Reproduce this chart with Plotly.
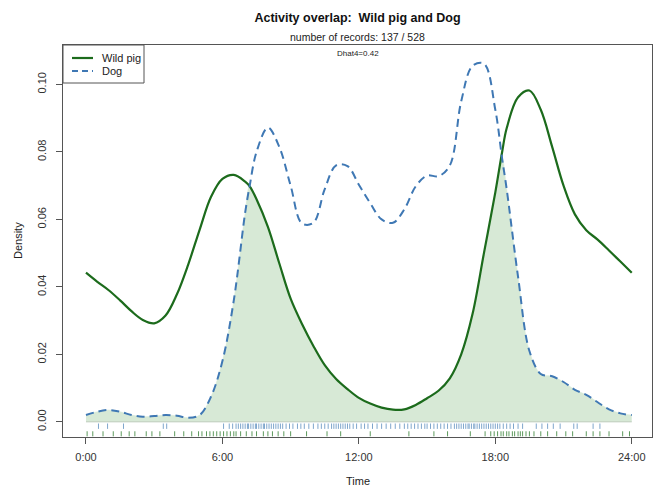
import plotly.graph_objects as go

# Time of day (hours) at which both kernel densities are evaluated
hours = [0.0, 0.5, 1.0, 1.5, 2.0, 2.5, 3.0, 3.5, 4.0, 4.5, 5.0, 5.5, 6.0, 6.5,
         7.0, 7.2, 7.5, 8.0, 8.5, 9.0, 9.5, 10.0, 10.5, 11.0, 11.5, 12.0, 12.5,
         13.0, 13.5, 14.0, 14.5, 15.0, 15.5, 16.0, 16.5, 17.0, 17.5, 18.0,
         18.3, 18.5, 19.0, 19.5, 20.0, 20.5, 21.0, 21.5, 22.0, 22.5, 23.0,
         23.5, 24.0]

wild_pig = [0.0442, 0.0415, 0.0390, 0.0360, 0.0328, 0.0302, 0.0292, 0.0315,
            0.0378, 0.0467, 0.0570, 0.0667, 0.0720, 0.0732, 0.0712, 0.0698,
            0.0660, 0.0578, 0.0470, 0.0365, 0.0290, 0.0225, 0.0168, 0.0127,
            0.0097, 0.0071, 0.0054, 0.0042, 0.0036, 0.0037, 0.0050, 0.0070,
            0.0092, 0.0129, 0.0200, 0.0320, 0.0500, 0.0680, 0.0800, 0.0870,
            0.0962, 0.0982, 0.0925, 0.0815, 0.0700, 0.0615, 0.0568, 0.0540,
            0.0508, 0.0475, 0.0442]

dog = [0.0020, 0.0030, 0.0035, 0.0030, 0.0020, 0.0015, 0.0017, 0.0020,
       0.0018, 0.0012, 0.0020, 0.0075, 0.0180, 0.0360, 0.0620, 0.0700,
       0.0800, 0.0872, 0.0815, 0.0700, 0.0588, 0.0590, 0.0690, 0.0760,
       0.0758, 0.0703, 0.0648, 0.0600, 0.0590, 0.0630, 0.0698, 0.0730,
       0.0728, 0.0760, 0.0950, 0.1055, 0.1062, 0.0925, 0.0780, 0.0690,
       0.0430, 0.0210, 0.0142, 0.0135, 0.0118, 0.0095, 0.0080, 0.0058,
       0.0037, 0.0025, 0.0020]

# Record times (hours) shown as rugs
wild_pig_times = [0.05, 0.3, 0.75, 1.2, 1.55, 1.9, 2.15, 2.65, 2.9, 3.25, 3.9,
                  4.3, 4.65, 4.95, 5.1, 5.3, 5.45, 5.6, 5.75, 5.9, 6.05, 6.2,
                  6.35, 6.5, 6.6, 6.8, 7.05, 7.3, 7.5, 7.8, 8.0, 8.2, 8.45,
                  8.7, 9.0, 9.7, 10.6, 11.2, 12.5, 14.2, 15.3, 15.9, 16.9,
                  17.55, 17.8, 17.95, 18.1, 18.25, 18.35, 18.5, 18.6, 18.75,
                  18.85, 19.0, 19.1, 19.2, 19.35, 19.5, 19.7, 20.0, 20.3,
                  20.7, 21.1, 21.4, 22.0, 22.3, 22.6, 23.0, 23.6, 23.9]

dog_times = [0.55, 0.95, 1.65, 3.4, 3.55, 6.05, 6.3, 6.45, 6.6, 6.7, 6.8, 6.9,
             7.0, 7.1, 7.15, 7.25, 7.35, 7.45, 7.5, 7.6, 7.7, 7.8, 7.85, 7.95,
             8.05, 8.15, 8.25, 8.35, 8.45, 8.55, 8.65, 8.8, 8.95, 9.1, 9.3,
             9.45, 9.6, 9.8, 10.0, 10.2, 10.35, 10.5, 10.65, 10.8, 10.9, 11.0,
             11.1, 11.2, 11.3, 11.4, 11.5, 11.6, 11.75, 11.9, 12.1, 12.25,
             12.4, 12.6, 12.8, 13.0, 13.2, 13.4, 13.6, 13.8, 14.0, 14.15, 14.3,
             14.45, 14.6, 14.75, 14.9, 15.0, 15.15, 15.3, 15.45, 15.6, 15.75,
             15.9, 16.05, 16.2, 16.3, 16.4, 16.5, 16.6, 16.7, 16.8, 16.85,
             16.95, 17.05, 17.1, 17.2, 17.3, 17.4, 17.5, 17.6, 17.7, 17.8,
             17.9, 18.0, 18.1, 18.2, 18.35, 18.5, 18.65, 18.8, 19.0, 19.2,
             19.8, 20.05, 20.3, 20.55, 20.85, 21.45, 21.6, 22.3, 22.6]

tick_hours = [0, 6, 12, 18, 24]
tick_labels = ["0:00", "6:00", "12:00", "18:00", "24:00"]
y_ticks = [0.00, 0.02, 0.04, 0.06, 0.08, 0.10]
series_names = ["Wild pig", "Dog"]

overlap = [min(a, b) for a, b in zip(wild_pig, dog)]

GREEN = "#1c6b1c"
BLUE = "#3f78b4"
FILL = "#d7e9d6"
DASH = "8px,5px"
FONT = "Liberation Sans, Arial, sans-serif"

# plot-area size in pixels, used to place paper-anchored decorations
PW, PH = 589, 392


def rug(times, y0, y1):
    xs, ys = [], []
    for t in times:
        xs += [t, t, None]
        ys += [y0, y1, None]
    return xs, ys


fig = go.Figure()

# shaded overlap region (minimum of the two densities)
fig.add_trace(go.Scatter(
    x=hours, y=overlap, mode="lines", fill="tozeroy", fillcolor=FILL,
    line=dict(color=FILL, width=0.5, shape="spline", smoothing=1),
    showlegend=False, hoverinfo="skip"))
fig.add_trace(go.Scatter(
    x=[hours[0], hours[-1]], y=[0, 0], mode="lines",
    line=dict(color="#bccbbb", width=1), showlegend=False, hoverinfo="skip"))

fig.add_trace(go.Scatter(
    x=hours, y=wild_pig, mode="lines", name=series_names[0], showlegend=False,
    line=dict(color=GREEN, width=2.2, shape="spline", smoothing=1)))
fig.add_trace(go.Scatter(
    x=hours, y=dog, mode="lines", name=series_names[1], showlegend=False,
    line=dict(color=BLUE, width=2, dash=DASH, shape="spline", smoothing=1)))

rx, ry = rug(dog_times, -0.0005, -0.0021)
fig.add_trace(go.Scatter(x=rx, y=ry, mode="lines",
                         line=dict(color="#7fa6cc", width=1),
                         showlegend=False, hoverinfo="skip"))
rx, ry = rug(wild_pig_times, -0.0028, -0.0043)
fig.add_trace(go.Scatter(x=rx, y=ry, mode="lines",
                         line=dict(color="#5d9a5d", width=1),
                         showlegend=False, hoverinfo="skip"))

axis_common = dict(showline=True, mirror=True, linecolor="#555555", linewidth=1,
                   ticks="outside", ticklen=6, tickcolor="#555555",
                   showgrid=False, zeroline=False,
                   tickfont=dict(family=FONT, size=11, color="#333333"))

fig.update_xaxes(range=[-1.01, 24.89], tickvals=tick_hours, ticktext=tick_labels,
                 ticklabelstandoff=4, **axis_common)
fig.update_yaxes(range=[-0.0045, 0.1117], tickvals=y_ticks, tickformat=".2f",
                 tickangle=-90, ticklabelstandoff=6, **axis_common)

# compact boxed legend in the top-left corner of the plot
legend_shapes = [
    dict(type="rect", xref="paper", yref="paper", x0=0, x1=81 / PW,
         y0=1 - 38 / PH, y1=1, line=dict(color="#555555", width=1),
         fillcolor="white", layer="above"),
    dict(type="line", xref="paper", yref="paper", x0=9 / PW, x1=30 / PW,
         y0=1 - 13 / PH, y1=1 - 13 / PH, line=dict(color=GREEN, width=2.2),
         layer="above"),
    dict(type="line", xref="paper", yref="paper", x0=9 / PW, x1=30 / PW,
         y0=1 - 26 / PH, y1=1 - 26 / PH,
         line=dict(color=BLUE, width=2, dash="6px,4px"), layer="above"),
]
legend_labels = [
    dict(text=series_names[0], xref="paper", yref="paper", x=37 / PW,
         y=1 - 13 / PH, xanchor="left", yanchor="middle", showarrow=False,
         font=dict(size=11, family=FONT, color="#222222")),
    dict(text=series_names[1], xref="paper", yref="paper", x=37 / PW,
         y=1 - 26 / PH, xanchor="left", yanchor="middle", showarrow=False,
         font=dict(size=11, family=FONT, color="#222222")),
]

fig.update_layout(
    width=668, height=489,
    margin=dict(l=63, r=16, t=45, b=52),
    paper_bgcolor="white", plot_bgcolor="white",
    font=dict(family=FONT, color="#222222"),
    showlegend=False,
    title=dict(text="<b>Activity overlap:\u00a0 Wild pig and Dog</b>",
               x=0.5, xref="paper", xanchor="center",
               y=1 - 18 / 489, yanchor="middle",
               font=dict(size=12.5, color="#111111", family=FONT)),
    shapes=legend_shapes,
    annotations=legend_labels + [
        dict(text="number of records: 137 / 528", xref="paper", yref="paper",
             x=0.5, y=1 + 8 / PH, xanchor="center", yanchor="middle",
             showarrow=False, font=dict(size=10.5, family=FONT, color="#222222")),
        dict(text="Dhat4=0.42", xref="paper", yref="paper",
             x=0.5, y=1 - 8 / PH, xanchor="center", yanchor="middle",
             showarrow=False, font=dict(size=8, family=FONT, color="#222222")),
        dict(text="Density", xref="paper", yref="paper",
             x=-45 / PW, y=0.5, xanchor="center", yanchor="middle",
             textangle=-90, showarrow=False,
             font=dict(size=11, family=FONT, color="#222222")),
        dict(text="Time", xref="paper", yref="paper",
             x=0.5, y=-44 / PH, xanchor="center", yanchor="middle",
             showarrow=False, font=dict(size=11, family=FONT, color="#222222")),
    ],
)

fig.write_html("out.html")
